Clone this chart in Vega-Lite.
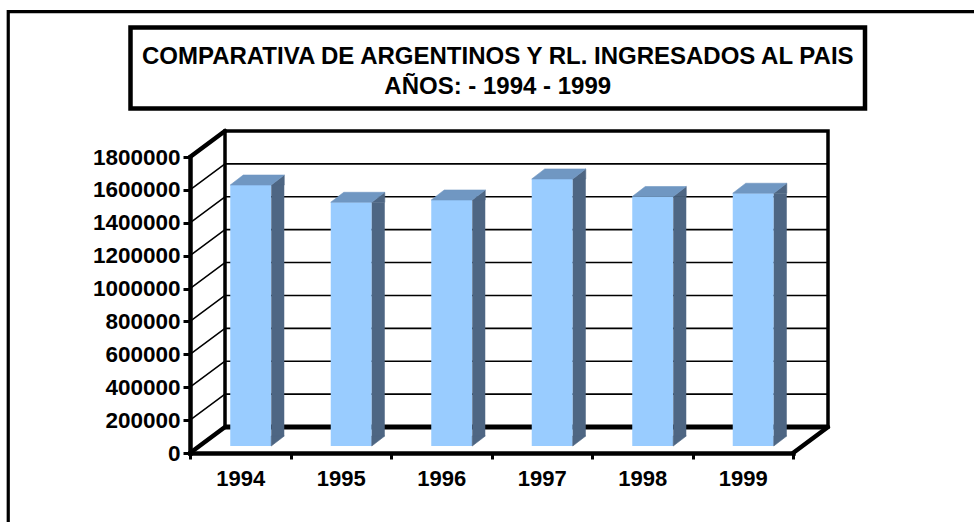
{
  "$schema": "https://vega.github.io/schema/vega-lite/v6.json",
  "width": 603,
  "height": 296,
  "autosize": {"type": "none"},
  "padding": {"left": 225, "top": 131, "right": 146, "bottom": 95},
  "background": "white",
  "config": {
    "view": {"stroke": "#000000", "strokeWidth": 3.5, "fill": "white"},
    "font": "Liberation Sans"
  },
  "resolve": {"axis": {"x": "independent", "y": "independent"}},
  "datasets": {
    "bars": [
      {"year": "1994", "v": 1587000},
      {"year": "1995", "v": 1482000},
      {"year": "1996", "v": 1496000},
      {"year": "1997", "v": 1624000},
      {"year": "1998", "v": 1517000},
      {"year": "1999", "v": 1537000}
    ],
    "grid": [
      {"v": 0}, {"v": 200000}, {"v": 400000}, {"v": 600000}, {"v": 800000},
      {"v": 1000000}, {"v": 1200000}, {"v": 1400000}, {"v": 1600000}, {"v": 1800000}
    ],
    "titulo": [
      {"t": "COMPARATIVA DE ARGENTINOS Y RL. INGRESADOS AL PAIS\nAÑOS: - 1994 - 1999"}
    ],
    "marco": [{"k": "marco"}]
  },
  "layer": [
    {
      "data": {"name": "grid"},
      "transform": [{"filter": "datum.v > 0 && datum.v < 1800000"}],
      "mark": {"type": "rule", "color": "#000000", "strokeWidth": 1.6},
      "encoding": {
        "y": {"field": "v", "type": "quantitative", "scale": {"domain": [0, 1800000], "nice": false, "zero": true}, "axis": null}
      }
    },
    {
      "data": {"name": "grid"},
      "transform": [{"filter": "datum.v == 0"}],
      "mark": {"type": "rule", "color": "#000000", "strokeWidth": 5},
      "encoding": {
        "y": {"field": "v", "type": "quantitative", "scale": {"domain": [0, 1800000], "nice": false, "zero": true}, "axis": null}
      }
    },
    {
      "data": {"name": "grid"},
      "mark": {"type": "point", "shape": "M-50.25,0L-85.25,26", "size": 4, "filled": false, "color": "#000000", "opacity": 1, "strokeCap": "round"},
      "encoding": {
        "x": {"datum": "1994", "type": "nominal", "scale": {"type": "band", "domain": ["1994", "1995", "1996", "1997", "1998", "1999"], "paddingInner": 0, "paddingOuter": 0}, "axis": null},
        "y": {"field": "v", "type": "quantitative", "scale": {"domain": [0, 1800000], "nice": false, "zero": true}, "axis": null},
        "strokeWidth": {"condition": {"test": "datum.v == 0 || datum.v == 1800000", "value": 4.5}, "value": 1.5}
      }
    },
    {
      "data": {"name": "grid"},
      "transform": [{"filter": "datum.v == 0"}],
      "mark": {"type": "point", "shape": "M50.25,0L15.25,26", "size": 4, "filled": false, "color": "#000000", "opacity": 1, "strokeWidth": 4.5, "strokeCap": "round"},
      "encoding": {
        "x": {"datum": "1999", "type": "nominal", "scale": {"type": "band", "domain": ["1994", "1995", "1996", "1997", "1998", "1999"], "paddingInner": 0, "paddingOuter": 0}, "axis": null},
        "y": {"field": "v", "type": "quantitative", "scale": {"domain": [0, 1800000], "nice": false, "zero": true}, "axis": null}
      }
    },
    {
      "data": {"name": "bars"},
      "mark": {"type": "bar", "color": "#99CCFF", "width": 41, "xOffset": -24.5, "yOffset": 19, "y2Offset": 19},
      "encoding": {
        "x": {
          "field": "year", "type": "nominal",
          "scale": {"type": "band", "domain": ["1994", "1995", "1996", "1997", "1998", "1999"], "paddingInner": 0, "paddingOuter": 0},
          "axis": {
            "orient": "bottom", "offset": 26, "position": -35, "tickBand": "extent", "title": null,
            "labelAngle": 0, "grid": false, "zindex": 1,
            "domainColor": "#000000", "domainWidth": 4.5, "domainCap": "square",
            "tickColor": "#000000", "tickSize": 6, "tickWidth": 3,
            "labelFont": "Liberation Sans", "labelFontSize": 22, "labelFontWeight": "bold", "labelColor": "#000000",
            "labelPadding": 9
          }
        },
        "y": {
          "field": "v", "type": "quantitative", "stack": null,
          "scale": {"domain": [0, 1800000], "nice": false, "zero": true},
          "axis": {
            "orient": "left", "offset": 35, "position": 26, "grid": false, "title": null, "zindex": 1,
            "values": [0, 200000, 400000, 600000, 800000, 1000000, 1200000, 1400000, 1600000, 1800000],
            "format": "d",
            "domainColor": "#000000", "domainWidth": 4.5, "domainCap": "square",
            "tickColor": "#000000", "tickSize": 7, "tickWidth": 3,
            "labelFont": "Liberation Sans", "labelFontSize": 22.5, "labelFontWeight": "bold", "labelColor": "#000000",
            "labelPadding": 3, "labelOverlap": false, "labelFlush": false, "labelBound": false
          }
        },
        "y2": {"datum": 0}
      }
    },
    {
      "data": {"name": "bars"},
      "mark": {"type": "bar", "color": "#4E6683", "width": 13, "xOffset": 2.5, "yOffset": 19, "y2Offset": 9},
      "encoding": {
        "x": {"field": "year", "type": "nominal", "scale": {"type": "band", "domain": ["1994", "1995", "1996", "1997", "1998", "1999"], "paddingInner": 0, "paddingOuter": 0}, "axis": null},
        "y": {"field": "v", "type": "quantitative", "stack": null, "scale": {"domain": [0, 1800000], "nice": false, "zero": true}, "axis": null},
        "y2": {"datum": 0}
      }
    },
    {
      "data": {"name": "bars"},
      "mark": {"type": "point", "shape": "M-4,19L9,9L9,19Z", "size": 4, "filled": true, "color": "#4E6683", "stroke": "#4E6683", "strokeWidth": 0.6, "opacity": 1},
      "encoding": {
        "x": {"field": "year", "type": "nominal", "scale": {"type": "band", "domain": ["1994", "1995", "1996", "1997", "1998", "1999"], "paddingInner": 0, "paddingOuter": 0}, "axis": null},
        "y": {"field": "v", "type": "quantitative", "scale": {"domain": [0, 1800000], "nice": false, "zero": true}, "axis": null}
      }
    },
    {
      "data": {"name": "bars"},
      "mark": {"type": "point", "shape": "M-4,9L-4,19L9,9Z", "size": 4, "filled": true, "color": "#4E6683", "stroke": "#4E6683", "strokeWidth": 0.6, "opacity": 1},
      "encoding": {
        "x": {"field": "year", "type": "nominal", "scale": {"type": "band", "domain": ["1994", "1995", "1996", "1997", "1998", "1999"], "paddingInner": 0, "paddingOuter": 0}, "axis": null},
        "y": {"datum": 0, "type": "quantitative", "scale": {"domain": [0, 1800000], "nice": false, "zero": true}, "axis": null}
      }
    },
    {
      "data": {"name": "bars"},
      "mark": {"type": "point", "shape": "M-45,19L-4,19L9,9L-32,9Z", "size": 4, "filled": true, "color": "#7097C2", "stroke": "#7097C2", "strokeWidth": 0.6, "opacity": 1},
      "encoding": {
        "x": {"field": "year", "type": "nominal", "scale": {"type": "band", "domain": ["1994", "1995", "1996", "1997", "1998", "1999"], "paddingInner": 0, "paddingOuter": 0}, "axis": null},
        "y": {"field": "v", "type": "quantitative", "scale": {"domain": [0, 1800000], "nice": false, "zero": true}, "axis": null}
      }
    },
    {
      "data": {"name": "titulo"},
      "mark": {"type": "text", "font": "Liberation Sans", "fontSize": 24, "fontWeight": "bold", "color": "#000000", "lineBreak": "\n", "lineHeight": 30, "align": "center", "baseline": "middle", "dx": 222.5, "dy": -74},
      "encoding": {
        "x": {"datum": "1994", "type": "nominal", "scale": {"type": "band", "domain": ["1994", "1995", "1996", "1997", "1998", "1999"], "paddingInner": 0, "paddingOuter": 0}, "axis": null},
        "y": {"datum": 1800000, "type": "quantitative", "scale": {"domain": [0, 1800000], "nice": false, "zero": true}, "axis": null},
        "text": {"field": "t"}
      }
    },
    {
      "data": {"name": "marco"},
      "mark": {"type": "point", "shape": "M-144.75,-103.5H589.75V-22.5H-144.75Z", "size": 4, "filled": false, "color": "#000000", "strokeWidth": 4.5, "strokeJoin": "miter", "opacity": 1},
      "encoding": {
        "x": {"datum": "1994", "type": "nominal", "scale": {"type": "band", "domain": ["1994", "1995", "1996", "1997", "1998", "1999"], "paddingInner": 0, "paddingOuter": 0}, "axis": null},
        "y": {"datum": 1800000, "type": "quantitative", "scale": {"domain": [0, 1800000], "nice": false, "zero": true}, "axis": null}
      }
    },
    {
      "data": {"name": "marco"},
      "mark": {"type": "point", "shape": "M-267,400V-119.3H710", "size": 4, "filled": false, "color": "#000000", "strokeWidth": 3.2, "strokeJoin": "miter", "opacity": 1},
      "encoding": {
        "x": {"datum": "1994", "type": "nominal", "scale": {"type": "band", "domain": ["1994", "1995", "1996", "1997", "1998", "1999"], "paddingInner": 0, "paddingOuter": 0}, "axis": null},
        "y": {"datum": 1800000, "type": "quantitative", "scale": {"domain": [0, 1800000], "nice": false, "zero": true}, "axis": null}
      }
    }
  ]
}
